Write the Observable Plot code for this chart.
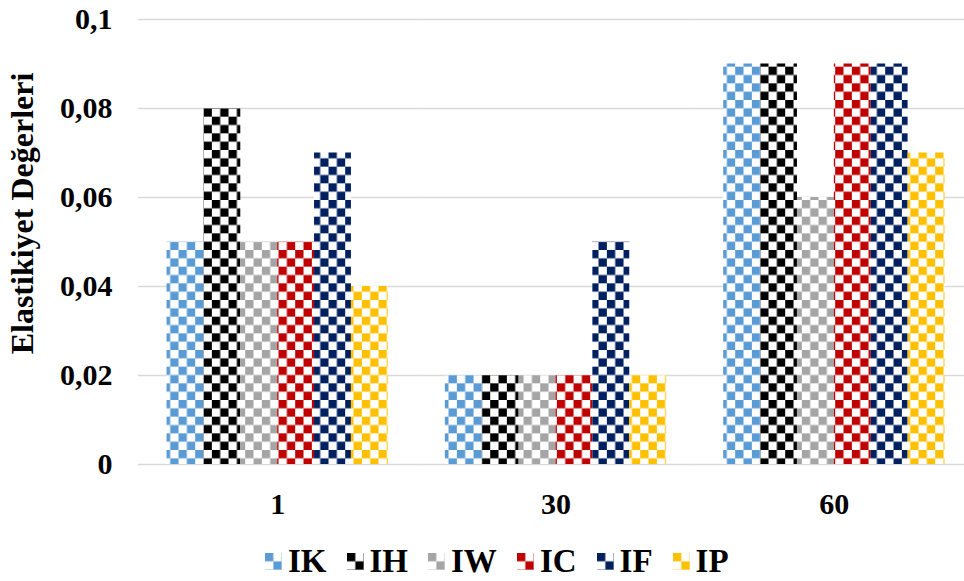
<!DOCTYPE html>
<html>
<head>
<meta charset="utf-8">
<script src="https://cdn.jsdelivr.net/npm/d3@7"></script>
<script src="https://cdn.jsdelivr.net/npm/@observablehq/plot@0.6"></script>
<style>
  html, body { margin: 0; padding: 0; background: #fff; }
  #wrap { position: relative; width: 964px; height: 581px; font-family: "Times New Roman", "Liberation Serif", serif; font-weight: bold; }
  #legend { position: absolute; left: 265px; top: 545px; display: flex; align-items: center; font-size: 33px; line-height: 1; color: #000; }
  #legend .item { display: flex; align-items: center; margin-right: 20px; }
  #legend svg { width: 17px; height: 17px; margin-right: 6px; }
</style>
</head>
<body>
<svg width="0" height="0" style="position:absolute" id="defs-holder"><defs id="pattern-defs"></defs></svg>
<div id="wrap"><div id="chart"></div><div id="legend"></div></div>
<script>
// Elasticity values by day and series
const categories = ["1", "30", "60"];
const seriesNames = ["IK", "IH", "IW", "IC", "IF", "IP"];
const seriesColors = ["#5B9BD5", "#000000", "#A5A5A5", "#C00000", "#002060", "#FFC000"];
const day1 = [0.05, 0.08, 0.05, 0.05, 0.07, 0.04];
const day30 = [0.02, 0.02, 0.02, 0.02, 0.05, 0.02];
const day60 = [0.09, 0.09, 0.06, 0.09, 0.09, 0.07];
const yTicks = [0, 0.02, 0.04, 0.06, 0.08, 0.1];

const byDay = [day1, day30, day60];
const rows = categories.flatMap((cat, i) =>
  seriesNames.map((series, j) => ({cat, series, value: byDay[i][j]}))
);

// Checkerboard fill patterns, one per series
const cell = 25 / 3;
const defs = d3.select("#pattern-defs");
seriesNames.forEach((s, j) => {
  const p = defs.append("pattern")
    .attr("id", `pat-${s}`)
    .attr("patternUnits", "userSpaceOnUse")
    .attr("width", cell * 2)
    .attr("height", cell * 2);
  p.append("rect").attr("width", cell * 2).attr("height", cell * 2).attr("fill", "#fff");
  p.append("rect").attr("width", cell).attr("height", cell).attr("fill", seriesColors[j]);
  p.append("rect").attr("x", cell).attr("y", cell).attr("width", cell).attr("height", cell).attr("fill", seriesColors[j]);
});

const fmt = d => d === 0 ? "0" : String(d).replace(".", ",");
const fontFamily = '"Times New Roman", "Liberation Serif", serif';

// Frame and facet geometry
const width = 964, marginLeft = 138, marginRight = -9;
const paddingInner = 0.205, paddingOuter = paddingInner / 2;
const step = (width - marginLeft - marginRight) / (categories.length - paddingInner + 2 * paddingOuter);
const halfGap = step * paddingInner / 2;   // grid lines reach across the gaps between groups

const chart = Plot.plot({
  width,
  height: 530,
  marginLeft,
  marginRight,
  marginTop: 19,
  marginBottom: 66,
  style: {fontFamily, fontWeight: "bold", color: "#000", background: "#fff", overflow: "visible"},
  fx: {domain: categories, paddingInner, paddingOuter, round: false, label: null},
  x: {domain: seriesNames, padding: 0, round: false, axis: null},
  y: {domain: [0, 0.1], axis: null},
  color: {type: "identity"},
  marks: [
    Plot.ruleY(yTicks, {stroke: "#D9D9D9", strokeWidth: 1.5, insetLeft: -halfGap, insetRight: -halfGap}),
    Plot.barY(rows, {fx: "cat", x: "series", y: "value", fill: d => `url(#pat-${d.series})`}),
    Plot.axisY(yTicks, {tickSize: 0, tickPadding: 26 + halfGap, tickFormat: fmt, fontSize: 30, label: null}),
    Plot.axisFx({anchor: "bottom", tickSize: 0, tickPadding: 28, fontSize: 30, label: null}),
    Plot.text(["Elastikiyet Değerleri"], {
      frameAnchor: "left", rotate: -90, dx: -115.5 - halfGap, dy: -28.5,
      textAnchor: "middle", lineAnchor: "middle",
      fontSize: 32, fontWeight: "bold", fill: "#000", facet: "super"
    })
  ]
});
document.getElementById("chart").appendChild(chart);

// Legend below the chart
const legend = d3.select("#legend");
seriesNames.forEach(s => {
  const item = legend.append("div").attr("class", "item");
  const sw = item.append("svg").attr("viewBox", "0 0 17 17");
  sw.append("rect").attr("width", 17).attr("height", 17).attr("fill", `url(#pat-${s})`);
  item.append("span").text(s);
});
</script>
</body>
</html>
